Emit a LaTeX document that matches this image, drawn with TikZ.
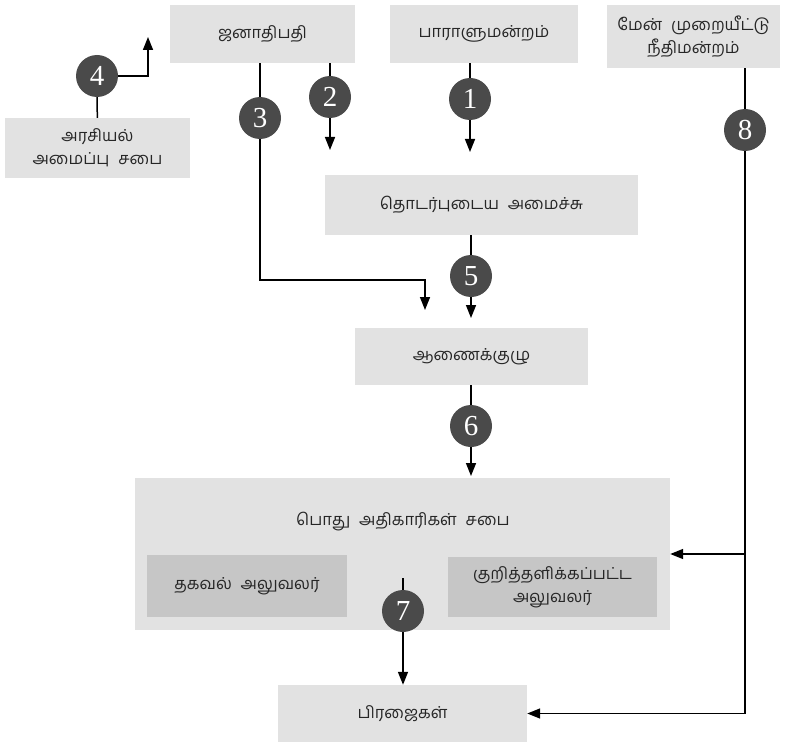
\documentclass[tikz,border=0pt]{standalone}
\usepackage{fontspec}
\setmainfont{Liberation Serif}
\newfontfamily\tamil[Script=Tamil,WordSpace=2.2]{Hind Madurai}
\newfontfamily\numfont{Liberation Serif}
\usetikzlibrary{arrows.meta}
\definecolor{boxgray}{HTML}{E2E2E2}
\definecolor{innergray}{HTML}{C6C6C6}
\definecolor{numgray}{HTML}{4A4A4A}
\begin{document}
\begin{tikzpicture}[x=1pt,y=-1pt,
  box/.style={fill=boxgray, inner sep=0pt, text=black!85, font=\tamil\fontsize{16.5}{23}\selectfont, align=center},
  inbox/.style={box, fill=innergray},
  num/.style={circle, fill=numgray, text=white, minimum size=42pt, inner sep=0pt, font=\numfont\fontsize{29}{29}\selectfont},
  conn/.style={line width=1.5pt},
  arr/.style={conn, -{Triangle[length=13pt,width=10pt]}}]
\useasboundingbox (0,0) rectangle (797,746);
% boxes
\node[box, minimum width=185pt, minimum height=58pt] (jan) at (262.5,34) {ஜனாதிபதி};
\node[box, minimum width=188pt, minimum height=58pt] (par) at (484,34) {பாராளுமன்றம்};
\node[box, minimum width=173pt, minimum height=63pt] (mor) at (693.5,36.5) {மேன் முறையீட்டு\\நீதிமன்றம்};
\node[box, minimum width=185pt, minimum height=60pt] (ara) at (97.5,148) {அரசியல்\\அமைப்பு சபை};
\node[box, minimum width=313pt, minimum height=60pt] (min) at (481.5,205) {தொடர்புடைய அமைச்சு};
\node[box, minimum width=233pt, minimum height=57pt] (aan) at (471.5,356.5) {ஆணைக்குழு};
\node[box, minimum width=535pt, minimum height=152pt] (pub) at (402.5,554) {};
\node[box] (pubt) at (403,522) {பொது அதிகாரிகள் சபை};
\node[inbox, minimum width=200pt, minimum height=62pt] (tak) at (247,586) {தகவல் அலுவலர்};
\node[inbox, minimum width=209pt, minimum height=60pt] (kur) at (552.5,587) {குறித்தளிக்கப்பட்ட\\அலுவலர்};
\node[box, minimum width=249pt, minimum height=57pt] (pra) at (402.5,713.5) {பிரஜைகள்};
% numbers
\node[num] (n1) at (470,99) {1};
\node[num] (n2) at (330,97) {2};
\node[num] (n3) at (260,118) {3};
\node[num] (n4) at (97,76) {4};
\node[num] (n5) at (471,276) {5};
\node[num] (n6) at (471,426) {6};
\node[num] (n7) at (403,611) {7};
\node[num] (n8) at (745,130) {8};
% free ends
\coordinate (t1) at (470,152);
\coordinate (t2) at (330,150);
\coordinate (c3) at (425,280);
\coordinate (t3) at (425,310);
\coordinate (t4) at (148,37);
\coordinate (t5) at (471,318);
\coordinate (t6) at (471,476);
\coordinate (s7) at (403,578);
% connectors
\draw[conn] (par.south -| n1) -- (n1);
\draw[arr] (n1) -- (t1);
\draw[conn] (jan.south -| n2) -- (n2);
\draw[arr] (n2) -- (t2);
\draw[conn] (jan.south -| n3) -- (n3);
\draw[arr] (n3) |- (c3) -- (t3);
\draw[conn] (ara) -- (n4);
\draw[arr] (n4) -| (t4);
\draw[conn] (min.south -| n5) -- (n5);
\draw[arr] (n5) -- (t5);
\draw[conn] (aan.south -| n6) -- (n6);
\draw[arr] (n6) -- (t6);
\draw[conn] (s7) -- (n7);
\draw[arr] (n7) -- (pra.north -| n7);
\draw[conn] (mor.south -| n8) -- (n8);
\draw[arr] (n8) |- (pra.east);
\draw[arr] (n8 |- pub.east) -- (pub.east);
\end{tikzpicture}
\end{document}
